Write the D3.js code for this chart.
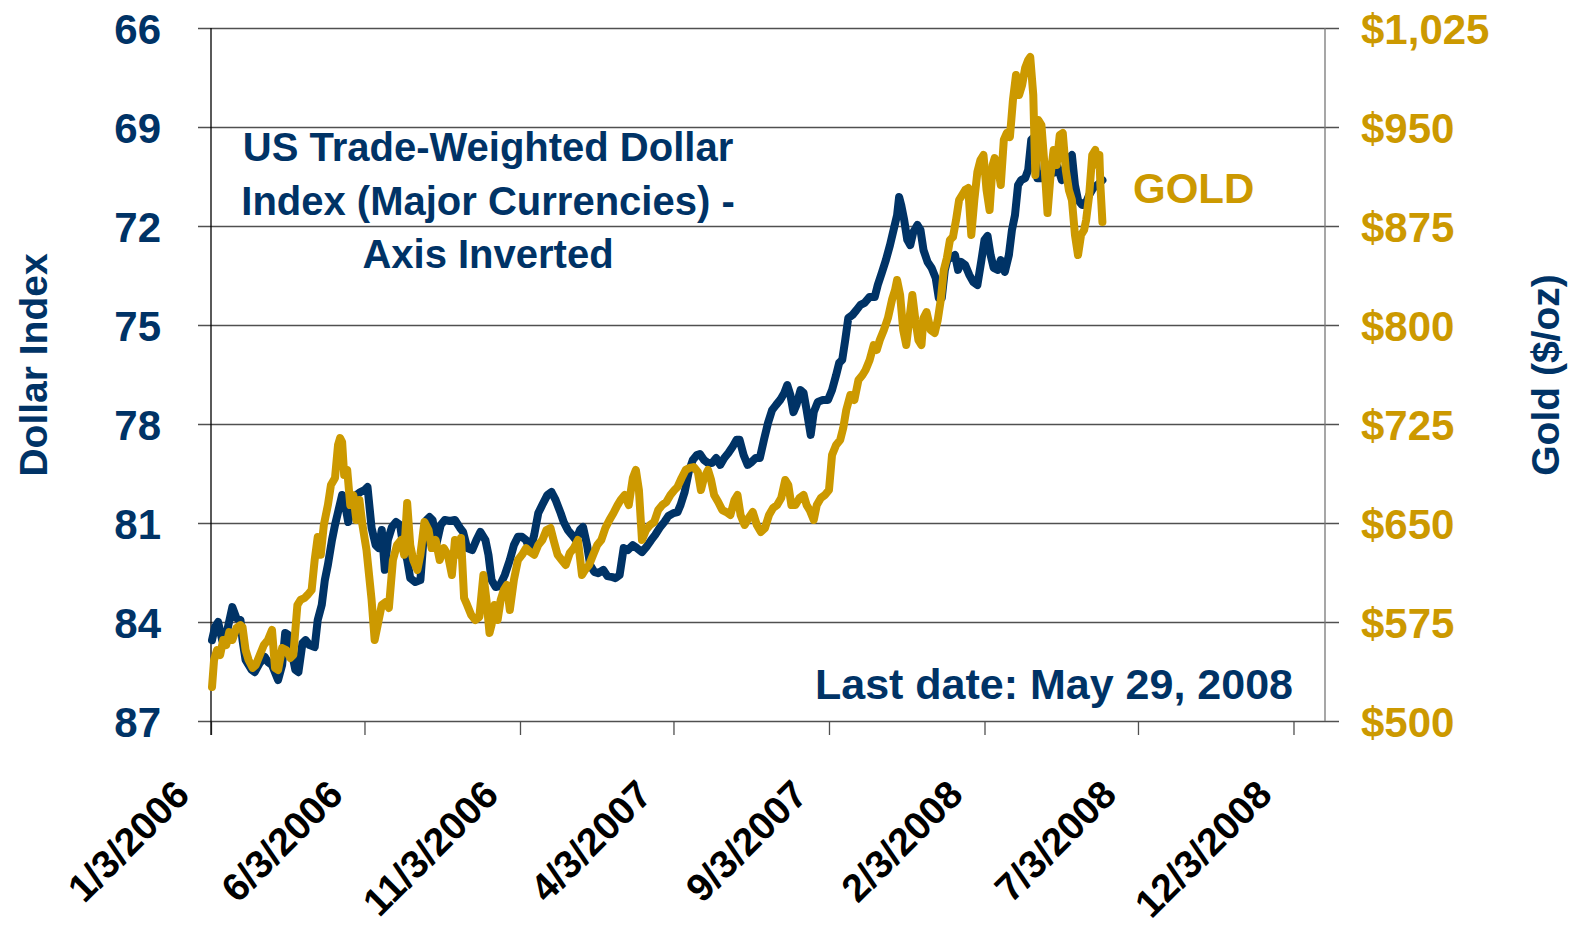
<!DOCTYPE html>
<html>
<head>
<meta charset="utf-8">
<script src="https://cdn.jsdelivr.net/npm/d3@7"></script>
<style>
  body { margin: 0; background: #fff; }
  svg { display: block; font-family: "Liberation Sans", Arial, sans-serif; font-weight: bold; }
</style>
</head>
<body>
<svg width="1583" height="927"></svg>
<script>
// trade-weighted dollar index (major currencies)
const dollarDates = [
  "2006-01-04","2006-01-07","2006-01-10","2006-01-14","2006-01-18","2006-01-24","2006-01-28","2006-02-01","2006-02-03","2006-02-06",
  "2006-02-12","2006-02-15","2006-02-20","2006-02-25","2006-02-28","2006-03-04","2006-03-10","2006-03-14","2006-03-17","2006-03-20",
  "2006-03-23","2006-03-27","2006-03-30","2006-04-03","2006-04-06","2006-04-10","2006-04-15","2006-04-18","2006-04-22","2006-04-25",
  "2006-04-28","2006-05-02","2006-05-05","2006-05-08","2006-05-12","2006-05-15","2006-05-18","2006-05-22","2006-05-26","2006-05-30",
  "2006-06-03","2006-06-06","2006-06-10","2006-06-14","2006-06-17","2006-06-20","2006-06-23","2006-06-26","2006-06-30","2006-07-04",
  "2006-07-08","2006-07-11","2006-07-15","2006-07-18","2006-07-23","2006-07-28","2006-07-31","2006-08-03","2006-08-06","2006-08-09",
  "2006-08-13","2006-08-17","2006-08-21","2006-08-26","2006-08-31","2006-09-05","2006-09-08","2006-09-12","2006-09-17","2006-09-21",
  "2006-09-25","2006-09-30","2006-10-03","2006-10-06","2006-10-10","2006-10-14","2006-10-19","2006-10-24","2006-10-28","2006-11-01",
  "2006-11-05","2006-11-09","2006-11-13","2006-11-17","2006-11-21","2006-11-25","2006-11-30","2006-12-04","2006-12-08","2006-12-13",
  "2006-12-16","2006-12-20","2006-12-24","2006-12-28","2007-01-01","2007-01-04","2007-01-08","2007-01-11","2007-01-15","2007-01-19",
  "2007-01-24","2007-01-28","2007-02-02","2007-02-05","2007-02-09","2007-02-13","2007-02-17","2007-02-22","2007-02-26","2007-03-03",
  "2007-03-08","2007-03-12","2007-03-16","2007-03-21","2007-03-25","2007-03-29","2007-04-03","2007-04-07","2007-04-10","2007-04-14",
  "2007-04-18","2007-04-22","2007-04-26","2007-04-29","2007-05-03","2007-05-07","2007-05-11","2007-05-15","2007-05-19","2007-05-23",
  "2007-05-27","2007-05-31","2007-06-04","2007-06-07","2007-06-11","2007-06-15","2007-06-19","2007-06-23","2007-06-27","2007-07-01",
  "2007-07-05","2007-07-09","2007-07-13","2007-07-17","2007-07-21","2007-07-24","2007-07-27","2007-07-30","2007-08-02","2007-08-06",
  "2007-08-09","2007-08-12","2007-08-16","2007-08-19","2007-08-23","2007-08-28","2007-09-02","2007-09-06","2007-09-10","2007-09-13",
  "2007-09-16","2007-09-19","2007-09-22","2007-09-26","2007-09-30","2007-10-04","2007-10-08","2007-10-13","2007-10-18","2007-10-21",
  "2007-10-25","2007-10-29","2007-11-02","2007-11-06","2007-11-09","2007-11-11","2007-11-13","2007-11-16","2007-11-19","2007-11-22",
  "2007-11-25","2007-11-29","2007-12-02","2007-12-05","2007-12-09","2007-12-13","2007-12-17","2007-12-20","2007-12-23","2007-12-26",
  "2007-12-29","2008-01-01","2008-01-05","2008-01-08","2008-01-11","2008-01-15","2008-01-19","2008-01-23","2008-01-27","2008-01-31",
  "2008-02-03","2008-02-06","2008-02-09","2008-02-12","2008-02-16","2008-02-19","2008-02-23","2008-02-27","2008-03-01","2008-03-04",
  "2008-03-07","2008-03-10","2008-03-14","2008-03-17","2008-03-20","2008-03-23","2008-03-26","2008-03-30","2008-04-03","2008-04-07",
  "2008-04-11","2008-04-15","2008-04-19","2008-04-23","2008-04-26","2008-04-29","2008-05-02","2008-05-05","2008-05-09","2008-05-12",
  "2008-05-16","2008-05-20","2008-05-24","2008-05-29"
];
const dollarValues = [
  84.55,84.15,84.00,84.55,84.39,83.55,83.88,83.94,84.55,85.15,
  85.45,85.52,85.24,85.06,85.21,85.30,85.76,85.30,84.33,84.39,
  84.85,85.45,85.52,84.64,84.55,84.70,84.76,83.94,83.48,82.73,
  82.27,81.52,81.06,80.67,80.15,80.45,80.97,80.45,80.15,80.06,
  80.00,79.91,81.15,81.67,81.76,81.21,82.42,81.52,81.12,80.97,
  81.06,81.67,82.12,82.67,82.79,82.73,81.52,80.91,80.82,80.91,
  81.61,81.06,80.91,80.94,80.91,81.15,81.27,81.76,81.82,81.52,
  81.27,81.52,81.97,82.73,82.94,82.91,82.58,82.12,81.67,81.42,
  81.42,81.52,81.82,81.36,80.70,80.45,80.15,80.06,80.30,80.70,
  80.97,81.21,81.36,81.52,81.21,81.12,81.67,82.27,82.48,82.52,
  82.42,82.61,82.64,82.67,82.58,81.76,81.82,81.67,81.76,81.88,
  81.70,81.52,81.36,81.12,80.97,80.79,80.70,80.67,80.45,80.06,
  79.45,79.09,78.94,78.91,79.09,79.18,79.18,79.03,79.24,79.03,
  78.88,78.70,78.48,78.48,78.94,79.24,79.15,79.03,79.03,78.48,
  77.97,77.58,77.42,77.27,77.06,76.82,77.12,77.64,77.42,76.97,
  77.06,77.58,78.33,77.64,77.33,77.27,77.27,76.97,76.52,76.15,
  76.06,75.45,74.79,74.70,74.55,74.39,74.33,74.15,74.15,73.79,
  73.42,73.03,72.58,72.06,71.67,71.12,71.36,71.82,72.42,72.58,
  72.18,71.97,72.12,72.73,73.09,73.27,73.58,74.18,74.18,73.33,
  72.97,72.97,72.88,73.33,73.09,73.18,73.48,73.70,73.79,73.03,
  72.42,72.30,72.88,73.27,73.33,73.03,73.39,72.88,72.12,71.67,
  70.76,70.61,70.55,70.30,69.39,69.30,70.55,70.55,70.30,70.39,
  70.39,70.21,70.61,70.45,69.94,69.85,70.76,71.21,71.36,71.36,
  71.06,70.85,70.76,70.61
];

// gold, $/oz
const goldDates = [
  "2006-01-04","2006-01-06","2006-01-09","2006-01-12","2006-01-15","2006-01-18","2006-01-21","2006-01-24","2006-01-28","2006-02-01",
  "2006-02-03","2006-02-06","2006-02-09","2006-02-13","2006-02-16","2006-02-20","2006-02-24","2006-02-28","2006-03-04","2006-03-07",
  "2006-03-10","2006-03-14","2006-03-18","2006-03-22","2006-03-25","2006-03-29","2006-04-01","2006-04-05","2006-04-08","2006-04-12",
  "2006-04-15","2006-04-18","2006-04-21","2006-04-24","2006-04-28","2006-05-01","2006-05-05","2006-05-08","2006-05-10","2006-05-12",
  "2006-05-14","2006-05-17","2006-05-20","2006-05-23","2006-05-26","2006-05-29","2006-06-01","2006-06-05","2006-06-07","2006-06-10",
  "2006-06-13","2006-06-16","2006-06-20","2006-06-24","2006-06-27","2006-07-01","2006-07-05","2006-07-09","2006-07-12","2006-07-15",
  "2006-07-18","2006-07-21","2006-07-25","2006-07-28","2006-08-01","2006-08-05","2006-08-08","2006-08-12","2006-08-16","2006-08-20",
  "2006-08-24","2006-08-28","2006-08-31","2006-09-03","2006-09-06","2006-09-09","2006-09-12","2006-09-16","2006-09-20","2006-09-24",
  "2006-09-28","2006-10-01","2006-10-04","2006-10-06","2006-10-09","2006-10-12","2006-10-15","2006-10-18","2006-10-21","2006-10-24",
  "2006-10-28","2006-11-01","2006-11-05","2006-11-09","2006-11-13","2006-11-17","2006-11-21","2006-11-25","2006-11-29","2006-12-03",
  "2006-12-06","2006-12-10","2006-12-14","2006-12-18","2006-12-22","2006-12-26","2006-12-30","2007-01-03","2007-01-06","2007-01-10",
  "2007-01-14","2007-01-18","2007-01-22","2007-01-26","2007-01-30","2007-02-03","2007-02-07","2007-02-10","2007-02-14","2007-02-18",
  "2007-02-22","2007-02-25","2007-02-28","2007-03-03","2007-03-07","2007-03-11","2007-03-15","2007-03-19","2007-03-23","2007-03-27",
  "2007-03-31","2007-04-04","2007-04-07","2007-04-11","2007-04-15","2007-04-19","2007-04-23","2007-04-27","2007-04-30","2007-05-03",
  "2007-05-07","2007-05-10","2007-05-13","2007-05-17","2007-05-21","2007-05-25","2007-05-29","2007-06-02","2007-06-05","2007-06-08",
  "2007-06-12","2007-06-16","2007-06-20","2007-06-24","2007-06-28","2007-07-02","2007-07-06","2007-07-10","2007-07-14","2007-07-18",
  "2007-07-22","2007-07-25","2007-07-28","2007-08-01","2007-08-05","2007-08-09","2007-08-12","2007-08-15","2007-08-19","2007-08-22",
  "2007-08-26","2007-08-30","2007-09-03","2007-09-06","2007-09-10","2007-09-14","2007-09-17","2007-09-20","2007-09-24","2007-09-28",
  "2007-10-02","2007-10-06","2007-10-09","2007-10-13","2007-10-17","2007-10-20","2007-10-23","2007-10-27","2007-10-31","2007-11-04",
  "2007-11-07","2007-11-09","2007-11-12","2007-11-15","2007-11-18","2007-11-21","2007-11-24","2007-11-27","2007-11-30","2007-12-03",
  "2007-12-05","2007-12-08","2007-12-12","2007-12-16","2007-12-19","2007-12-22","2007-12-25","2007-12-28","2007-12-31","2008-01-03",
  "2008-01-06","2008-01-09","2008-01-12","2008-01-15","2008-01-18","2008-01-21","2008-01-24","2008-01-27","2008-01-30","2008-02-02",
  "2008-02-05","2008-02-08","2008-02-11","2008-02-13","2008-02-16","2008-02-19","2008-02-22","2008-02-25","2008-02-28","2008-03-02",
  "2008-03-05","2008-03-08","2008-03-11","2008-03-14","2008-03-17","2008-03-19","2008-03-22","2008-03-24","2008-03-27","2008-03-30",
  "2008-04-02","2008-04-05","2008-04-08","2008-04-11","2008-04-14","2008-04-17","2008-04-20","2008-04-23","2008-04-26","2008-04-29",
  "2008-05-02","2008-05-05","2008-05-08","2008-05-11","2008-05-13","2008-05-16","2008-05-19","2008-05-22","2008-05-24","2008-05-26",
  "2008-05-27","2008-05-29"
];
const goldValues = [
  525.8,546.2,553.8,550.0,561.4,557.6,567.4,561.4,570.5,572.7,
  571.2,553.8,546.2,540.2,542.4,550.0,557.6,561.4,569.0,540.2,
  538.6,555.3,553.8,547.7,550.0,587.9,591.7,593.2,595.5,599.2,
  622.0,639.4,625.9,648.5,663.6,678.8,684.1,709.1,714.4,711.4,
  686.4,690.2,663.6,671.2,652.3,667.4,648.5,629.5,614.4,591.7,
  561.4,572.7,587.9,590.2,585.6,622.0,633.3,637.1,625.9,665.1,
  633.3,622.0,614.4,625.9,650.8,644.7,631.0,637.1,622.0,631.0,
  625.9,610.6,637.1,625.9,638.6,593.2,587.9,580.3,576.5,578.8,
  610.6,591.7,566.7,572.7,587.9,576.5,591.7,599.2,603.0,584.1,
  606.8,622.0,625.9,631.0,628.0,625.9,633.3,637.1,644.7,646.2,
  637.1,625.9,622.0,618.2,627.3,631.0,637.1,610.6,614.4,618.2,
  625.9,633.3,637.1,646.2,652.3,657.6,663.6,667.4,671.2,663.6,
  684.1,690.2,675.0,637.1,644.7,648.5,650.8,659.8,663.6,665.9,
  671.2,675.0,677.3,684.1,690.2,691.7,692.4,688.6,675.0,684.1,
  690.2,682.6,671.2,665.9,659.8,658.3,656.1,667.4,671.2,656.1,
  648.5,653.8,658.3,648.5,643.2,646.2,656.1,661.4,663.6,668.9,
  682.6,678.8,663.6,663.6,668.9,671.2,663.6,659.8,652.3,663.6,
  668.9,671.2,675.0,701.5,709.1,712.9,721.9,735.6,747.0,743.2,
  758.3,762.1,765.9,773.5,784.8,781.1,788.6,796.2,805.3,819.1,
  826.5,834.1,822.7,796.2,784.8,803.8,822.7,803.8,788.6,784.8,
  805.3,809.8,796.2,794.0,803.8,819.1,841.7,850.8,864.4,866.7,
  879.5,894.7,898.5,902.3,903.8,868.2,894.7,915.9,925.0,928.8,
  902.3,887.1,921.2,926.5,921.2,906.1,940.2,945.5,942.4,970.5,
  989.4,974.2,981.8,994.7,1000.8,1003.0,974.2,913.6,955.3,951.5,
  921.2,884.8,913.6,932.6,921.2,943.9,945.5,917.4,902.3,894.7,
  868.2,853.0,868.2,872.0,879.5,898.5,928.8,932.6,921.2,928.8,
  906.1,878.0
];

const dollarTicks = [66, 69, 72, 75, 78, 81, 84, 87];
const goldTicks = [500, 575, 650, 725, 800, 875, 950, 1025];
const dateTicks = ["1/3/2006", "6/3/2006", "11/3/2006", "4/3/2007", "9/3/2007", "2/3/2008", "7/3/2008", "12/3/2008"];
const titleLines = ["US Trade-Weighted Dollar", "Index (Major Currencies) -", "Axis Inverted"];

const NAVY = "#003366";
const GOLD = "#cc9900";
const GRID = "#505050";

let plotLeft = 211;
let plotRight = 1325;
let plotTop = 28;
let plotBottom = 721;
let gridRight = 1339;
let lineWidth = 8;

const parseIso = d3.timeParse("%Y-%m-%d");
const parseTick = d3.timeParse("%m/%d/%Y");

const svg = d3.select("svg");

const x = d3.scaleTime()
    .domain([parseTick("1/3/2006"), parseTick("1/3/2009")])
    .range([plotLeft, plotRight]);
const yDollar = d3.scaleLinear().domain([66, 87]).range([plotTop, plotBottom]);
const yGold = d3.scaleLinear().domain([500, 1025]).range([plotBottom, plotTop]);

// left axis + gridlines
const gLeft = svg.append("g")
    .attr("transform", `translate(${plotLeft},0)`)
    .call(d3.axisLeft(yDollar)
        .tickValues(dollarTicks)
        .tickSizeInner(-(gridRight - plotLeft))
        .tickSizeOuter(0)
        .tickPadding(50));
gLeft.select(".domain").remove();
gLeft.attr("font-family", null).attr("font-size", 42);
gLeft.selectAll(".tick line")
    .attr("x1", -13)
    .attr("stroke", GRID)
    .attr("stroke-width", 1.3);
gLeft.selectAll(".tick text")
    .attr("fill", NAVY)
    .attr("dy", "0.36em");

// right axis labels
const gRight = svg.append("g")
    .attr("transform", `translate(${plotRight},0)`)
    .call(d3.axisRight(yGold)
        .tickValues(goldTicks)
        .tickSize(0)
        .tickPadding(36)
        .tickFormat(d => "$" + d3.format(",")(d)));
gRight.select(".domain").remove();
gRight.attr("font-family", null).attr("font-size", 42);
gRight.selectAll(".tick text")
    .attr("fill", GOLD)
    .attr("dy", "0.36em");

// bottom axis
const gBottom = svg.append("g")
    .attr("transform", `translate(0,${plotBottom})`)
    .call(d3.axisBottom(x)
        .tickValues(dateTicks.map(parseTick))
        .tickFormat((d, i) => dateTicks[i])
        .tickSize(14));
gBottom.select(".domain").remove();
gBottom.attr("font-family", null).attr("font-size", 39);
gBottom.selectAll(".tick line").attr("stroke", GRID).attr("stroke-width", 1.3);
gBottom.selectAll(".tick text")
    .attr("fill", "#000")
    .attr("x", 0)
    .attr("y", 0)
    .attr("dy", null)
    .attr("text-anchor", "end")
    .attr("transform", "translate(-20,76) rotate(-45)");

// axis lines
svg.append("line")
    .attr("x1", plotLeft).attr("x2", plotLeft)
    .attr("y1", plotTop).attr("y2", plotBottom + 14)
    .attr("stroke", "#000").attr("stroke-width", 1.3);
svg.append("line")
    .attr("x1", plotRight).attr("x2", plotRight)
    .attr("y1", plotTop).attr("y2", plotBottom)
    .attr("stroke", "#777").attr("stroke-width", 1.3);

// series
const dollarData = dollarDates.map((d, i) => ({date: parseIso(d), value: dollarValues[i]}));
const goldData = goldDates.map((d, i) => ({date: parseIso(d), value: goldValues[i]}));

const dollarLine = d3.line().x(d => x(d.date)).y(d => yDollar(d.value));
const goldLine = d3.line().x(d => x(d.date)).y(d => yGold(d.value));

svg.append("path")
    .datum(dollarData)
    .attr("d", dollarLine)
    .attr("fill", "none")
    .attr("stroke", NAVY)
    .attr("stroke-width", lineWidth)
    .attr("stroke-linejoin", "round")
    .attr("stroke-linecap", "round");

svg.append("path")
    .datum(goldData)
    .attr("d", goldLine)
    .attr("fill", "none")
    .attr("stroke", GOLD)
    .attr("stroke-width", lineWidth)
    .attr("stroke-linejoin", "round")
    .attr("stroke-linecap", "round");

// labels
svg.append("g")
    .selectAll("text")
    .data(titleLines)
    .enter().append("text")
        .attr("x", 488)
        .attr("y", (d, i) => 161 + i * 53.5)
        .attr("text-anchor", "middle")
        .attr("font-size", 40)
        .attr("fill", NAVY)
        .text(d => d);

svg.append("text")
    .attr("x", 1133)
    .attr("y", 203)
    .attr("font-size", 42)
    .attr("fill", GOLD)
    .text("GOLD");

svg.append("text")
    .attr("x", 1293)
    .attr("y", 699)
    .attr("text-anchor", "end")
    .attr("font-size", 43)
    .attr("fill", NAVY)
    .text("Last date: May 29, 2008");

svg.append("text")
    .attr("transform", "translate(47,365) rotate(-90)")
    .attr("text-anchor", "middle")
    .attr("font-size", 39)
    .attr("fill", NAVY)
    .text("Dollar Index");

svg.append("text")
    .attr("transform", "translate(1559,375) rotate(-90)")
    .attr("text-anchor", "middle")
    .attr("font-size", 39)
    .attr("fill", NAVY)
    .text("Gold ($/oz)");
</script>
</body>
</html>
